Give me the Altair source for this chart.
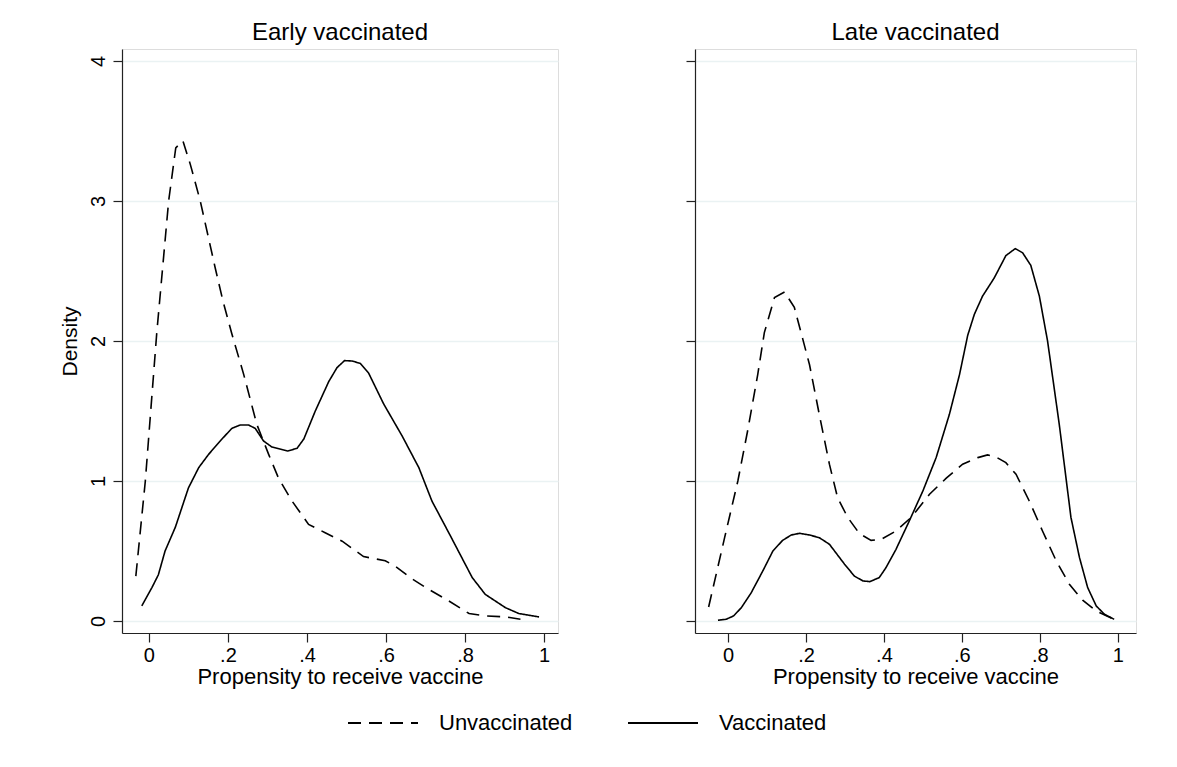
import altair as alt
import pandas as pd

# ---- data ----
early_unvac_x = [-0.033, -0.009, 0.02, 0.05, 0.068, 0.086, 0.105, 0.13, 0.168, 0.187, 0.21, 0.24, 0.273, 0.303,
                 0.328, 0.362, 0.404, 0.446, 0.489, 0.543, 0.598, 0.624, 0.666, 0.708, 0.759, 0.81, 0.851, 0.902, 0.94]
early_unvac_d = [0.32, 1.0, 2.06, 3.0, 3.38, 3.43, 3.26, 3.0, 2.52, 2.29, 2.05, 1.76, 1.405, 1.19,
                 1.02, 0.857, 0.69, 0.63, 0.57, 0.46, 0.43, 0.39, 0.30, 0.226, 0.143, 0.053, 0.036, 0.029, 0.012]

early_vac_x = [-0.018, 0.008, 0.024, 0.041, 0.067, 0.1, 0.126, 0.151, 0.185, 0.21, 0.231, 0.252, 0.269, 0.29,
               0.311, 0.352, 0.375, 0.392, 0.421, 0.455, 0.476, 0.495, 0.514, 0.535, 0.556, 0.594, 0.641, 0.683,
               0.716, 0.763, 0.818, 0.851, 0.902, 0.936, 0.987]
early_vac_d = [0.107, 0.24, 0.33, 0.5, 0.67, 0.95, 1.095, 1.19, 1.30, 1.376, 1.40, 1.40, 1.376, 1.286,
               1.243, 1.214, 1.234, 1.30, 1.5, 1.71, 1.81, 1.86, 1.857, 1.84, 1.77, 1.55, 1.32, 1.095,
               0.857, 0.607, 0.31, 0.19, 0.095, 0.053, 0.029]

late_unvac_x = [-0.05, -0.009, 0.025, 0.05, 0.076, 0.093, 0.119, 0.145, 0.17, 0.192, 0.209, 0.234, 0.26, 0.281,
                0.307, 0.337, 0.367, 0.393, 0.431, 0.47, 0.517, 0.56, 0.602, 0.641, 0.666, 0.688, 0.713, 0.739,
                0.773, 0.807, 0.842, 0.876, 0.91, 0.945, 0.991]
late_unvac_d = [0.1, 0.595, 1.0, 1.357, 1.76, 2.06, 2.31, 2.35, 2.24, 2.01, 1.83, 1.476, 1.12, 0.88,
                0.74, 0.624, 0.576, 0.583, 0.643, 0.74, 0.905, 1.02, 1.12, 1.167, 1.186, 1.171, 1.131, 1.048,
                0.857, 0.643, 0.43, 0.262, 0.148, 0.071, 0.012]

late_vac_x = [-0.026, -0.005, 0.014, 0.034, 0.059, 0.089, 0.115, 0.14, 0.162, 0.183, 0.209, 0.234, 0.26, 0.299,
              0.324, 0.346, 0.364, 0.388, 0.405, 0.431, 0.465, 0.5, 0.534, 0.568, 0.594, 0.615, 0.632, 0.653,
              0.683, 0.713, 0.737, 0.756, 0.777, 0.799, 0.82, 0.85, 0.88, 0.902, 0.923, 0.945, 0.966, 0.991]
late_vac_d = [0.005, 0.012, 0.036, 0.095, 0.2, 0.357, 0.5, 0.576, 0.614, 0.626, 0.614, 0.595, 0.548, 0.405,
              0.321, 0.286, 0.281, 0.31, 0.38, 0.512, 0.714, 0.929, 1.167, 1.476, 1.76, 2.04, 2.19, 2.32,
              2.45, 2.61, 2.66, 2.63, 2.54, 2.32, 2.0, 1.405, 0.74, 0.452, 0.238, 0.107, 0.048, 0.012]

groups = ["Unvaccinated", "Vaccinated"]
x_ticks = [0, 0.2, 0.4, 0.6, 0.8, 1]
y_ticks = [0, 1, 2, 3, 4]

rows = []
for panel, grp, xs, ds in [
    ("early", "Unvaccinated", early_unvac_x, early_unvac_d),
    ("early", "Vaccinated", early_vac_x, early_vac_d),
    ("late", "Unvaccinated", late_unvac_x, late_unvac_d),
    ("late", "Vaccinated", late_vac_x, late_vac_d),
]:
    for xv, dv in zip(xs, ds):
        rows.append({"panel": panel, "group": grp, "x": xv, "d": dv})
df = pd.DataFrame(rows)

FONT = "Liberation Sans"
dash_scale = alt.Scale(domain=groups, range=[[13, 8], [1, 0]])
xlab = "datum.value == 0 ? '0' : datum.value == 1 ? '1' : replace(format(datum.value, '.1f'), '0.', '.')"


def panel(name, title, width, xdom, left):
    yaxis = alt.Axis(
        values=y_ticks, grid=True, gridColor="#EAF2F3", gridWidth=1.5,
        tickSize=9, tickColor="#222", domainColor="#222", tickWidth=1.2, domainWidth=1.2,
        labels=left, labelAngle=270, labelAlign="center", labelBaseline="bottom",
        labelPadding=5, labelFontSize=20, labelFont=FONT, labelColor="black",
        title="Density" if left else None, titleFont=FONT, titleFontSize=21,
        titleFontWeight="normal", titleColor="black", titlePadding=8,
    )
    xaxis = alt.Axis(
        values=x_ticks, labelExpr=xlab, grid=False,
        tickSize=9, tickColor="#222", domainColor="#222", tickWidth=1.2, domainWidth=1.2,
        labelFontSize=20, labelFont=FONT, labelColor="black", labelPadding=3,
        title="Propensity to receive vaccine", titleFont=FONT, titleFontSize=22,
        titleFontWeight="normal", titleColor="black", titlePadding=1,
    )
    return alt.Chart(df).transform_filter(alt.datum.panel == name).mark_line(
        color="black", strokeWidth=1.6
    ).encode(
        x=alt.X("x:Q", scale=alt.Scale(domain=xdom, nice=False, zero=False), axis=xaxis),
        y=alt.Y("d:Q", scale=alt.Scale(domain=[-0.086, 4.086], nice=False, zero=False), axis=yaxis),
        strokeDash=alt.StrokeDash(
            "group:N", scale=dash_scale,
            legend=alt.Legend(
                title=None, orient="none", direction="horizontal",
                legendX=225, legendY=638, symbolType="stroke", symbolSize=4900,
                symbolStrokeColor="black", symbolStrokeWidth=1.8, labelFont=FONT,
                labelFontSize=22, labelColor="black", labelOffset=20, columnPadding=51,
                padding=0,
            ),
        ),
        detail="group:N",
    ).properties(
        width=width, height=584,
        title=alt.TitleParams(title, font=FONT, fontSize=24, fontWeight="normal", color="black",
                              anchor="middle", offset=4),
    )


left = panel("early", "Early vaccinated", 436, [-0.068, 1.035], True)
right = panel("late", "Late vaccinated", 441, [-0.085, 1.047], False)

chart = alt.hconcat(left, right, spacing=125).properties(
    padding={"left": 50, "top": 12, "right": 5, "bottom": 5}
).configure_view(stroke=None).configure(background="white")

chart.save("out.html", embed_options={"renderer": "svg", "actions": False})
